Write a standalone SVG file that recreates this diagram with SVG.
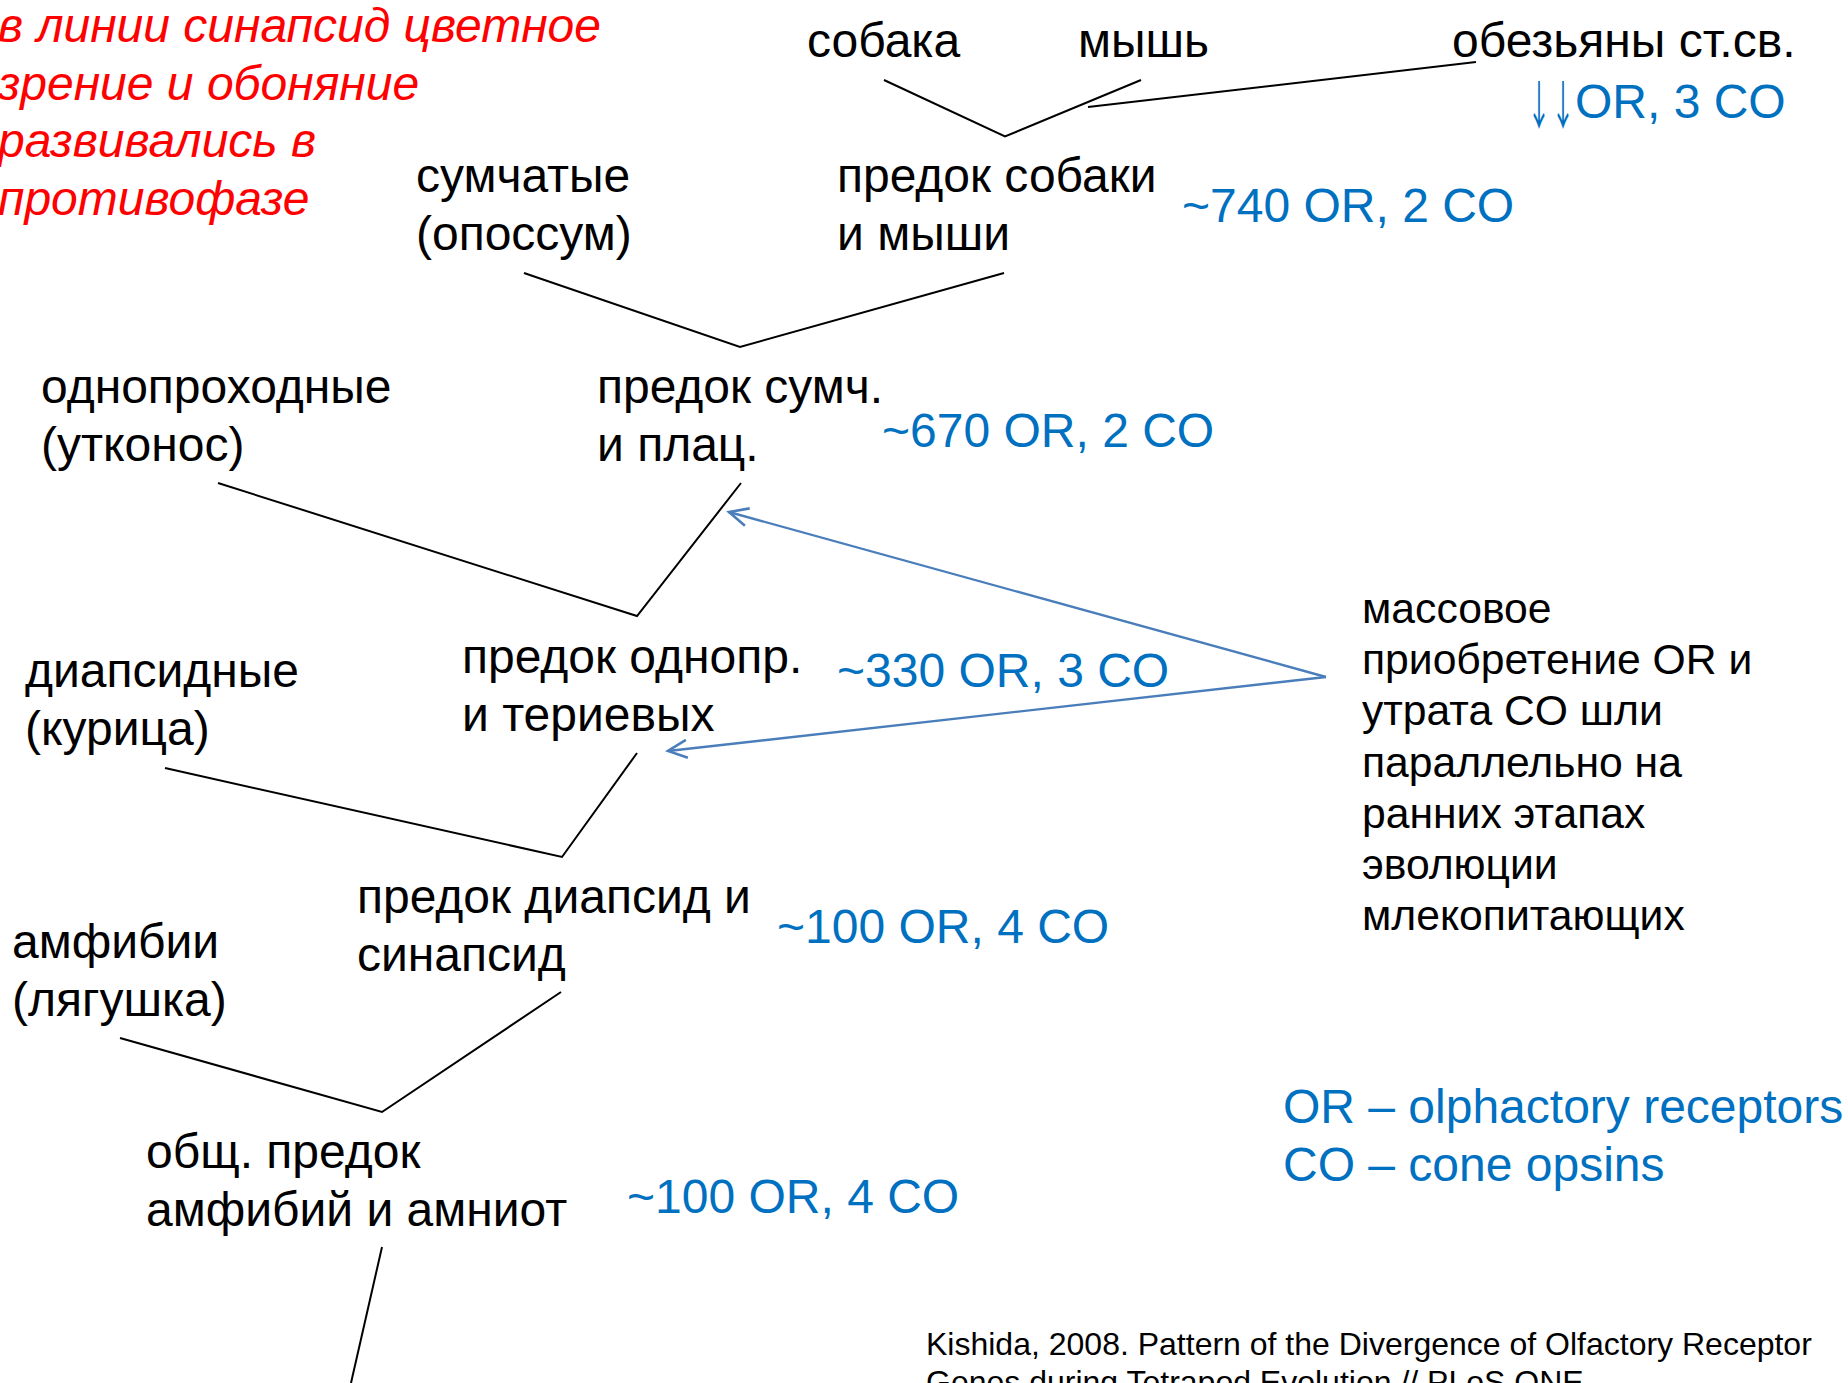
<svg xmlns="http://www.w3.org/2000/svg" width="1848" height="1383" viewBox="0 0 1848 1383">
<style>
  text { font-family: "Liberation Sans", Arial, sans-serif; }
  .t { font-size: 48px; fill: #000000; }
  .b { font-size: 48px; fill: #0070C0; }
  .r { font-size: 48px; fill: #FF0000; font-style: italic; }
  .s { font-size: 42.67px; fill: #000000; }
  .c { font-size: 32px; fill: #000000; }
  .arr { font-family: "Noto Sans CJK JP", "Liberation Sans", sans-serif; font-size: 52px; fill: #0070C0; }
  .edge { stroke: #000000; stroke-width: 2; fill: none; }
  .arrow { stroke: #4A7EBB; stroke-width: 2.4; fill: none; }
</style>
<defs>
  <marker id="openhead" viewBox="0 0 24 24" refX="21" refY="12" markerWidth="24" markerHeight="24" markerUnits="userSpaceOnUse" orient="auto">
    <path d="M2,3 L21,12 L2,21" fill="none" stroke="#4A7EBB" stroke-width="2.6" stroke-linejoin="miter"/>
  </marker>
</defs>
<rect x="0" y="0" width="1848" height="1383" fill="#FFFFFF"/>

<g id="connectors">
  <polyline class="edge" points="884,80 1005,136.5 1141,80"/>
  <line class="edge" x1="1088" y1="107" x2="1476" y2="62"/>
  <polyline class="edge" points="524,273 740,347 1004,273"/>
  <polyline class="edge" points="218,483 637,616 741,483"/>
  <polyline class="edge" points="165,768 562,857 637,753"/>
  <polyline class="edge" points="120,1038 382,1112 561,992"/>
  <line class="edge" x1="382" y1="1247" x2="351" y2="1383"/>
  <line class="arrow" x1="1326" y1="677" x2="729" y2="512" marker-end="url(#openhead)"/>
  <line class="arrow" x1="1326" y1="677" x2="668" y2="751" marker-end="url(#openhead)"/>
</g>

<g id="note-red">
  <text class="r" x="-2" y="42">в линии синапсид цветное</text>
  <text class="r" x="-2" y="99.5">зрение и обоняние</text>
  <text class="r" x="-2" y="157">развивались в</text>
  <text class="r" x="-2" y="214.5">противофазе</text>
</g>

<g id="node-dog"><text class="t" x="807" y="57">собака</text></g>
<g id="node-mouse"><text class="t" x="1078" y="57">мышь</text></g>
<g id="node-monkey">
  <text class="t" x="1452" y="57">обезьяны ст.св.</text>
  <text class="arr" transform="translate(1527,125) scale(0.46,1)">↓↓</text>
  <text class="b" x="1575" y="118">OR, 3 CO</text>
</g>

<g id="node-marsupials">
  <text class="t" x="416" y="192">сумчатые</text>
  <text class="t" x="416" y="249.6">(опоссум)</text>
</g>
<g id="node-dog-mouse-ancestor">
  <text class="t" x="837" y="192">предок собаки</text>
  <text class="t" x="837" y="249.6">и мыши</text>
  <text class="b" x="1182" y="222">~740 OR, 2 CO</text>
</g>

<g id="node-monotremes">
  <text class="t" x="41" y="403">однопроходные</text>
  <text class="t" x="41" y="460.6">(утконос)</text>
</g>
<g id="node-therian-ancestor">
  <text class="t" x="597" y="403">предок сумч.</text>
  <text class="t" x="597" y="460.6">и плац.</text>
  <text class="b" x="882" y="447">~670 OR, 2 CO</text>
</g>

<g id="node-diapsids">
  <text class="t" x="25" y="687">диапсидные</text>
  <text class="t" x="25" y="744.6">(курица)</text>
</g>
<g id="node-mammal-ancestor">
  <text class="t" x="462" y="673">предок однопр.</text>
  <text class="t" x="462" y="730.6">и териевых</text>
  <text class="b" x="837" y="687">~330 OR, 3 CO</text>
</g>

<g id="node-amphibians">
  <text class="t" x="12" y="958">амфибии</text>
  <text class="t" x="12" y="1015.6">(лягушка)</text>
</g>
<g id="node-amniote-ancestor">
  <text class="t" x="357" y="913">предок диапсид и</text>
  <text class="t" x="357" y="970.6">синапсид</text>
  <text class="b" x="777" y="943">~100 OR, 4 CO</text>
</g>

<g id="node-tetrapod-ancestor">
  <text class="t" x="146" y="1168">общ. предок</text>
  <text class="t" x="146" y="1225.6">амфибий и амниот</text>
  <text class="b" x="627" y="1213">~100 OR, 4 CO</text>
</g>

<g id="node-annotation">
  <text class="s" x="1362" y="623">массовое</text>
  <text class="s" x="1362" y="674.2">приобретение OR и</text>
  <text class="s" x="1362" y="725.4">утрата CO шли</text>
  <text class="s" x="1362" y="776.6">параллельно на</text>
  <text class="s" x="1362" y="827.8">ранних этапах</text>
  <text class="s" x="1362" y="879">эволюции</text>
  <text class="s" x="1362" y="930.2">млекопитающих</text>
</g>

<g id="legend">
  <text class="b" x="1283" y="1123">OR – olphactory receptors</text>
  <text class="b" x="1283" y="1180.6">CO – cone opsins</text>
</g>

<g id="citation">
  <text class="c" x="926" y="1355">Kishida, 2008. Pattern of the Divergence of Olfactory Receptor</text>
  <text class="c" x="926" y="1393">Genes during Tetrapod Evolution // PLoS ONE</text>
</g>
</svg>
